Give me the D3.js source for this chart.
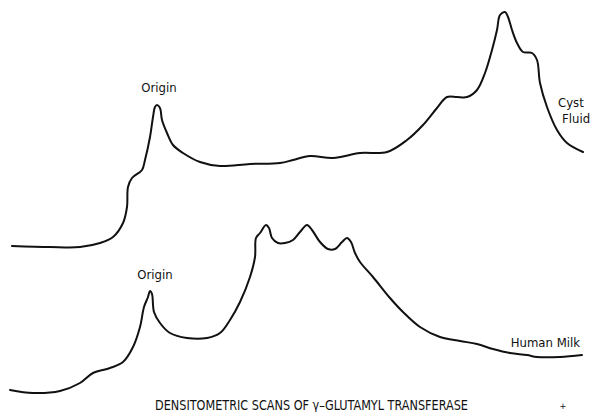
<!DOCTYPE html>
<html>
<head>
<meta charset="utf-8">
<script src="https://cdn.jsdelivr.net/npm/d3@7"></script>
<style>
  html, body { margin: 0; padding: 0; background: #fff; }
  svg { display: block; }
  text { font-family: "Liberation Sans Narrow", "DejaVu Sans Condensed", "Roboto Condensed", sans-serif; fill: #111; }
</style>
</head>
<body>
<div id="chart"></div>
<script>
// migration distance (scan position) and optical density
const cystPosition = [12, 50, 80, 100, 113, 123, 127, 128, 132, 142, 145, 150, 153, 155, 157, 160, 162, 167, 173, 183, 200, 220, 250, 280, 293, 310, 333, 360, 387, 407, 423, 437, 447, 457, 467, 477, 485, 492, 497, 500, 505, 508, 512, 517, 523, 532, 537, 540, 547, 557, 567, 583];
const cystDensity = [4, 3, 3, 7, 13, 27, 43, 63, 72, 80, 90, 113, 133, 143, 145, 142, 130, 117, 105, 97, 88, 84, 86, 87, 90, 94, 92, 97, 98, 110, 125, 142, 153, 153, 153, 160, 177, 200, 220, 235, 238, 233, 220, 207, 198, 197, 190, 167, 143, 120, 107, 98];

const milkPosition = [10, 33, 60, 80, 93, 110, 123, 133, 140, 144, 148, 150, 152, 154, 160, 170, 187, 207, 220, 230, 240, 250, 255, 256, 260, 266, 269, 272, 278, 285, 293, 300, 307, 312, 320, 328, 335, 342, 347, 351, 355, 360, 373, 390, 403, 420, 440, 460, 477, 493, 510, 527, 537, 560, 582];
const milkDensity = [5, 2, 4, 12, 22, 27, 33, 48, 68, 88, 98, 104, 101, 83, 72, 62, 57, 57, 62, 75, 93, 118, 138, 157, 162, 170, 167, 157, 152, 152, 155, 163, 170, 165, 153, 146, 146, 153, 157, 153, 142, 133, 118, 97, 83, 68, 58, 54, 51, 46, 42, 40, 38, 38, 40];

const title = 'DENSITOMETRIC SCANS OF \u03b3\u2013GLUTAMYL TRANSFERASE';

const width = 590;
const height = 412;

const svg = d3.select('#chart').append('svg')
  .attr('width', width)
  .attr('height', height);

const x = d3.scaleLinear().domain([0, 590]).range([0, 590]);
const yCyst = d3.scaleLinear().domain([0, 240]).range([250, 10]);
const yMilk = d3.scaleLinear().domain([0, 170]).range([395, 225]);

function scanLine(yScale) {
  return d3.line()
    .x(d => x(d[0]))
    .y(d => yScale(d[1]))
    .curve(d3.curveCatmullRom.alpha(0.5));
}

svg.append('path')
  .attr('d', scanLine(yCyst)(d3.zip(cystPosition, cystDensity)))
  .attr('fill', 'none')
  .attr('stroke', '#111')
  .attr('stroke-width', 2)
  .attr('stroke-linejoin', 'round')
  .attr('stroke-linecap', 'round');

svg.append('path')
  .attr('d', scanLine(yMilk)(d3.zip(milkPosition, milkDensity)))
  .attr('fill', 'none')
  .attr('stroke', '#111')
  .attr('stroke-width', 2)
  .attr('stroke-linejoin', 'round')
  .attr('stroke-linecap', 'round');

const labels = [
  { text: 'Origin', x: 159, y: 92, anchor: 'middle' },
  { text: 'Origin', x: 155, y: 279, anchor: 'middle' },
  { text: 'Cyst', x: 558, y: 107, anchor: 'start' },
  { text: 'Fluid', x: 562, y: 123, anchor: 'start' },
  { text: 'Human Milk', x: 580, y: 347, anchor: 'end' },
];

svg.selectAll('text.label')
  .data(labels)
  .enter()
  .append('text')
  .attr('class', 'label')
  .attr('x', d => d.x)
  .attr('y', d => d.y)
  .attr('text-anchor', d => d.anchor)
  .attr('font-size', 13)
  .text(d => d.text);

svg.append('text')
  .attr('x', 155)
  .attr('y', 410)
  .attr('font-size', 13.5)
  .attr('textLength', 313)
  .attr('lengthAdjust', 'spacingAndGlyphs')
  .text(title);

svg.append('text')
  .attr('x', 563)
  .attr('y', 409)
  .attr('text-anchor', 'middle')
  .attr('font-size', 9)
  .text('+');
</script>
</body>
</html>
